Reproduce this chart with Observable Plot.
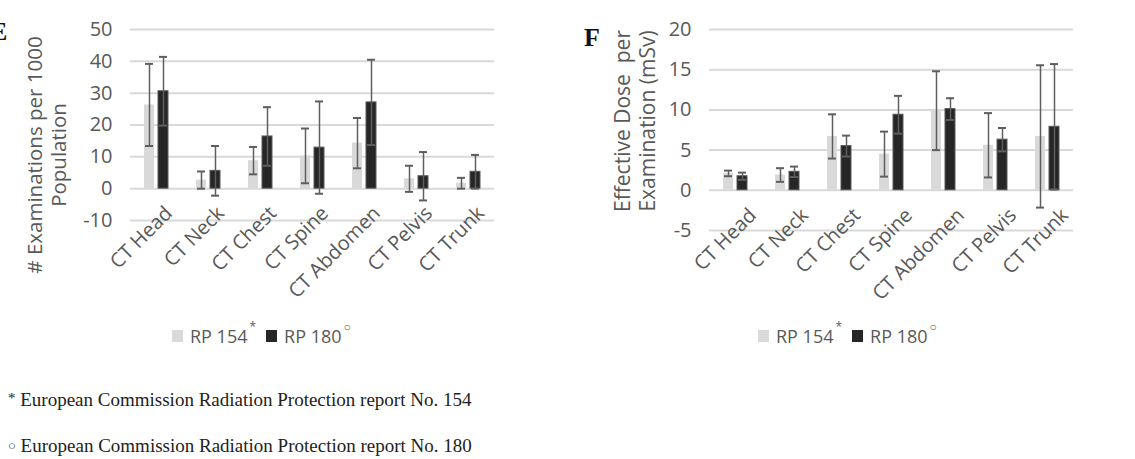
<!DOCTYPE html>
<html><head><meta charset="utf-8">
<script src="https://cdn.jsdelivr.net/npm/d3@7"></script>
<script src="https://cdn.jsdelivr.net/npm/@observablehq/plot@0.6"></script>
<style>
body{margin:0;width:1135px;height:459px;overflow:hidden;background:#fff;position:relative;font-family:"Open Sans",sans-serif;color:#595959}
.abs{position:absolute}
.ytitle{position:absolute;text-align:center;white-space:pre;transform:translate(-50%,-50%) rotate(-90deg);color:#595959}
.legend{position:absolute;display:flex;align-items:center;font-size:18px;color:#595959;white-space:nowrap}
.sw{display:inline-block;width:11px;height:12px;margin-right:7px}
.sup{font-size:12px;position:relative;top:-10px;margin-left:2px;margin-right:10px}
.foot{position:absolute;font-family:"Liberation Serif",serif;font-size:19px;color:#222;white-space:nowrap}
.panel{position:absolute;font-family:"Liberation Serif",serif;font-weight:bold;font-size:26px;color:#111}
</style></head>
<body>
<div id="left" class="abs" style="left:0;top:0"></div>
<div id="right" class="abs" style="left:560px;top:0"></div>
<div class="panel" style="left:-10px;top:17px">E</div>
<div class="panel" style="left:584px;top:23px">F</div>
<div class="ytitle" style="left:46px;top:155px;font-size:20.5px;line-height:24px"># Examinations per 1000
Population</div>
<div class="ytitle" style="left:635px;top:121px;font-size:21px;line-height:25px">Effective Dose  per
Examination (mSv)</div>
<div id="legL" class="legend" style="left:172px;top:324px"></div>
<div id="legR" class="legend" style="left:758px;top:324px"></div>
<div class="foot" style="left:8px;top:389px"><span style="font-size:15px;position:relative;top:-3px">*</span> European Commission Radiation Protection report No. 154</div>
<div class="foot" style="left:8px;top:435px"><span style="font-size:13px;position:relative;top:-2px">○</span> European Commission Radiation Protection report No. 180</div>
<script>
const categories = ["CT Head", "CT Neck", "CT Chest", "CT Spine", "CT Abdomen", "CT Pelvis", "CT Trunk"];
const series = ["RP 154", "RP 180"];
const seriesMarks = ["*", "○"];
const seriesColors = ["#d9d9d9", "#262626"];

// # Examinations per 1000 population (mean, error)
const examRP154 = [26.3, 2.7, 8.8, 10.3, 14.3, 3.1, 1.7];
const examRP154Err = [12.9, 2.7, 4.3, 8.6, 7.9, 4.1, 1.7];
const examRP180 = [30.6, 5.6, 16.4, 12.9, 27.1, 3.9, 5.3];
const examRP180Err = [10.8, 7.8, 9.2, 14.5, 13.4, 7.6, 5.3];
const examTicks = [-10, 0, 10, 20, 30, 40, 50];

// Effective dose per examination, mSv (mean, error)
const doseRP154 = [2.1, 1.9, 6.7, 4.5, 9.9, 5.6, 6.7];
const doseRP154Err = [0.35, 0.85, 2.75, 2.8, 4.9, 4.0, 8.85];
const doseRP180 = [1.75, 2.3, 5.5, 9.4, 10.1, 6.3, 7.9];
const doseRP180Err = [0.45, 0.65, 1.3, 2.35, 1.35, 1.45, 7.8];
const doseTicks = [-5, 0, 5, 10, 15, 20];

function rowsOf(a, aErr, b, bErr) {
  const rows = [];
  categories.forEach((c, i) => {
    rows.push({category: c, series: series[0], value: a[i], err: aErr[i]});
    rows.push({category: c, series: series[1], value: b[i], err: bErr[i]});
  });
  return rows;
}

function chart(rows, ticks, width, height, marginLeft, marginRight, labelDx, labelDy) {
  return Plot.plot({
    width, height,
    marginTop: 29, marginBottom: 80, marginLeft, marginRight,
    style: {fontFamily: "'Open Sans', sans-serif", fontSize: "20px", color: "#595959", background: "transparent", overflow: "visible"},
    fx: {domain: categories, padding: 0, axis: null, label: null},
    x: {domain: series, paddingInner: 0.27, paddingOuter: 0.88, axis: null},
    y: {domain: [ticks[0], ticks[ticks.length - 1]], ticks, tickSize: 0, tickPadding: 18, label: null, tickFormat: d => String(d)},
    color: {domain: series, range: seriesColors},
    marks: [
      Plot.ruleY(ticks, {stroke: "#d9d9d9", strokeWidth: 2}),
      Plot.barY(rows, {fx: "category", x: "series", y: "value", fill: "series",
        stroke: d => d.series === series[1] ? "#5a5a5a" : "none", strokeWidth: 1}),
      Plot.ruleX(rows, {fx: "category", x: "series", y1: d => d.value - d.err, y2: d => d.value + d.err, stroke: "#5e5e5e", strokeWidth: 1.5}),
      Plot.tickY(rows, {fx: "category", x: "series", y: d => d.value + d.err, stroke: "#5e5e5e", strokeWidth: 2, insetLeft: 1, insetRight: 1}),
      Plot.tickY(rows, {fx: "category", x: "series", y: d => d.value - d.err, stroke: "#5e5e5e", strokeWidth: 2, insetLeft: 1, insetRight: 1}),
      Plot.text(categories, {fx: d => d, text: d => d, frameAnchor: "bottom", rotate: -45, textAnchor: "end",
        dx: labelDx, dy: labelDy, fill: "#595959", fontSize: 20})
    ]
  });
}

document.getElementById("left").append(
  chart(rowsOf(examRP154, examRP154Err, examRP180, examRP180Err), examTicks, 540, 300, 128, 44, 17, -6));
document.getElementById("right").append(
  chart(rowsOf(doseRP154, doseRP154Err, doseRP180, doseRP180Err), doseTicks, 575, 310, 148, 62, 22, -14));

for (const id of ["legL", "legR"]) {
  const el = document.getElementById(id);
  series.forEach((s, i) => {
    const sw = document.createElement("span"); sw.className = "sw"; sw.style.background = seriesColors[i];
    const t = document.createElement("span"); t.textContent = s;
    const sup = document.createElement("span"); sup.className = "sup"; sup.textContent = seriesMarks[i];
    el.append(sw, t, sup);
  });
}
</script>
</body></html>
